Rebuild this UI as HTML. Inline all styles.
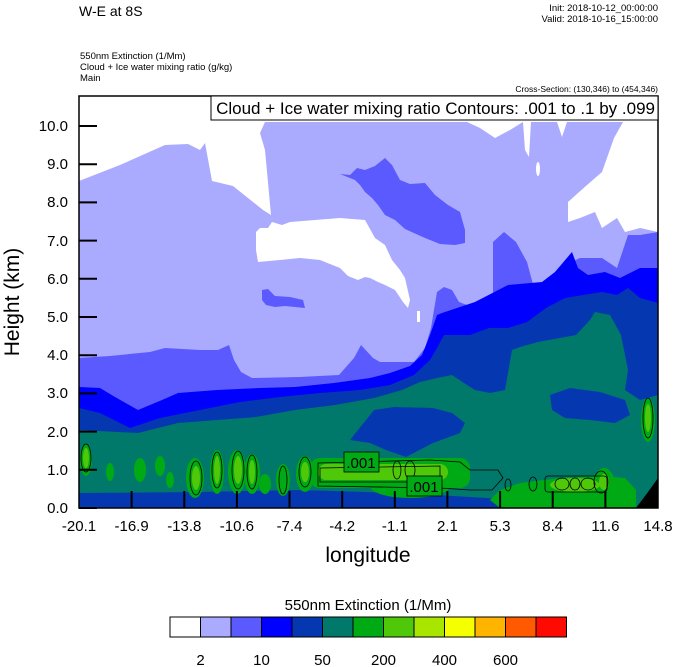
<!DOCTYPE html>
<html><head><meta charset="utf-8"><style>
body{margin:0;background:#fff;}
svg{display:block;font-family:"Liberation Sans",sans-serif;}
</style></head><body>
<svg width="674" height="667" viewBox="0 0 674 667" xmlns="http://www.w3.org/2000/svg">
<rect width="674" height="667" fill="#fff"/>
<text x="79" y="16" font-size="14">W-E at 8S</text>
<text x="658" y="11" font-size="9.5" text-anchor="end">Init: 2018-10-12_00:00:00</text>
<text x="658" y="22" font-size="9.5" text-anchor="end">Valid: 2018-10-16_15:00:00</text>
<text x="80" y="59" font-size="9.5">550nm Extinction   (1/Mm)</text>
<text x="80" y="70" font-size="9.5">Cloud + Ice water mixing ratio   (g/kg)</text>
<text x="80" y="81" font-size="9.5">Main</text>
<text x="658" y="92" font-size="8.5" text-anchor="end">Cross-Section: (130,346) to (454,346)</text>
<defs><clipPath id="pc"><rect x="79" y="96" width="579" height="412"/></clipPath></defs>
<g clip-path="url(#pc)">
<rect x="79" y="96" width="579" height="412" fill="#fff"/>
<polygon fill="#aaaaff" points="79,181 120,165 165,145 188,144 200,150 205,143 212,181 233,186 263,210 271,215 265,150 260,133 265,122 467,122 480,128 495,138 510,130 523,122 525,150 529,157 531,122 557,122 562,137 567,122 623,122 614,138 602,172 587,185 568,202 568,222 580,218 595,212 602,228 617,218 625,232 640,228 658,232 658,508 79,508"/>
<polygon fill="#fff" points="256,232 260,228 268,228 272,222 282,225 290,222 340,218 365,220 375,238 385,245 392,260 400,270 405,278 410,300 408,308 403,302 395,290 385,285 378,282 370,278 365,277 358,280 348,276 340,268 320,260 300,258 280,260 258,262 256,250"/>
<rect x="417" y="311" width="3" height="11" fill="#fff"/>
<ellipse cx="538" cy="169" rx="2" ry="7" fill="#fff"/>
<polygon fill="#5a5aff" points="340,174 350,175 357,168 365,170 375,166 385,158 392,165 400,180 410,184 425,183 435,195 448,205 460,212 465,230 465,243 455,245 440,244 425,238 405,229 395,220 385,215 378,205 372,198 365,192 360,185 355,180"/>
<polygon fill="#5a5aff" points="262,290 268,289 275,296 290,297 303,300 305,308 295,307 285,306 275,307 266,305 262,300"/>
<polygon fill="#5a5aff" points="79,358 110,356 150,352 165,348 200,350 218,350 229,345 234,360 241,372 252,378 300,377 339,375 354,358 361,345 373,358 380,362 414,362 425,348 431,328 437,292 444,287 452,290 459,302 467,305 489,303 493,295 493,242 504,232 516,242 527,262 534,288 542,295 550,285 565,265 580,258 602,258 617,268 628,235 640,235 658,232 658,508 79,508"/>
<polygon fill="#0000ff" points="79,387 100,388 115,397 138,410 162,400 178,393 217,390 260,388 295,387 334,383 370,378 390,373 410,366 422,355 430,335 437,315 442,313 475,302 508,285 542,282 555,272 572,252 578,268 588,275 605,272 620,278 640,268 658,268 658,508 79,508"/>
<polygon fill="#0538b0" points="79,408 100,413 130,428 160,418 200,410 240,402 280,397 320,393 360,390 390,385 414,375 430,360 437,348 444,335 470,335 489,328 508,328 527,322 546,308 565,298 583,295 602,292 617,295 628,288 640,298 658,303 658,508 79,508"/>
<polygon fill="#00786a" points="79,430 138,433 178,423 217,420 256,417 295,410 335,405 374,398 402,390 420,382 437,378 452,375 467,385 475,390 490,393 505,390 512,350 520,347 538,342 576,335 590,320 595,312 610,315 621,335 628,370 625,390 640,400 658,395 658,508 79,508"/>
<polygon fill="#0538b0" points="366,420 374,410 394,407 433,408 452,413 465,423 460,433 433,443 406,457 386,450 370,443 350,440"/>
<polygon fill="#0538b0" points="550,395 570,388 600,392 625,400 630,415 615,423 590,420 565,418 552,410"/>
<polygon fill="#0538b0" points="79,493 200,492 300,490 400,493 470,497 520,500 520,508 79,508"/>
<polygon fill="#00aa14" points="490,500 500,490 520,483 560,478 600,476 625,478 636,490 636,508 500,508"/>
<polygon fill="#000" points="636,508 648,492 658,478 658,508"/>
<g fill="#00aa14">
<rect x="310" y="458" width="160" height="30" rx="10"/>
<ellipse cx="86" cy="460" rx="6" ry="16"/>
<ellipse cx="195" cy="478" rx="9" ry="20"/>
<ellipse cx="217" cy="472" rx="7" ry="22"/>
<ellipse cx="237" cy="472" rx="9" ry="22"/>
<ellipse cx="252" cy="474" rx="8" ry="20"/>
<ellipse cx="283" cy="480" rx="7" ry="16"/>
<ellipse cx="305" cy="474" rx="9" ry="18"/>
<ellipse cx="410" cy="486" rx="40" ry="12"/>
<ellipse cx="648" cy="420" rx="7" ry="22"/>
<ellipse cx="604" cy="482" rx="10" ry="14"/>
<ellipse cx="140" cy="470" rx="6" ry="12"/>
<ellipse cx="110" cy="472" rx="4" ry="9"/>
<ellipse cx="160" cy="466" rx="5" ry="10"/>
<ellipse cx="170" cy="480" rx="4" ry="8"/>
<ellipse cx="265" cy="484" rx="6" ry="10"/>
</g>
<g fill="#50c80a">
<rect x="318" y="464" width="130" height="16" rx="8"/>
<ellipse cx="86" cy="458" rx="3" ry="10"/>
<ellipse cx="196" cy="478" rx="4" ry="12"/>
<ellipse cx="217" cy="470" rx="3" ry="14"/>
<ellipse cx="238" cy="470" rx="4" ry="14"/>
<ellipse cx="252" cy="472" rx="3" ry="12"/>
<ellipse cx="305" cy="472" rx="4" ry="10"/>
<ellipse cx="575" cy="485" rx="25" ry="7"/>
<ellipse cx="648" cy="418" rx="3" ry="14"/>
<ellipse cx="604" cy="482" rx="5" ry="8"/>
</g>
<g fill="none" stroke="#000" stroke-width="0.8">
<ellipse cx="86" cy="458" rx="5" ry="14"/>
<ellipse cx="196" cy="478" rx="6" ry="17"/>
<ellipse cx="217" cy="470" rx="5" ry="18"/>
<ellipse cx="238" cy="470" rx="6" ry="19"/>
<ellipse cx="252" cy="472" rx="5" ry="17"/>
<ellipse cx="283" cy="480" rx="4" ry="14"/>
<ellipse cx="305" cy="472" rx="6" ry="15"/>
<ellipse cx="601" cy="482" rx="7" ry="11"/>
<ellipse cx="648" cy="418" rx="5" ry="20"/>
<path d="M318,463 L430,460 L460,462 L470,470 L498,470 L503,478 L492,490 L470,490 L440,488 L318,486 Z"/>
<path d="M320,468 L440,466 L440,482 L320,482 Z"/>
<rect x="545" y="476" width="62" height="16" rx="3"/>
<ellipse cx="562" cy="484" rx="7" ry="6"/>
<ellipse cx="575" cy="484" rx="5" ry="6"/>
<ellipse cx="588" cy="484" rx="7" ry="6"/>
<ellipse cx="533" cy="484" rx="4" ry="7"/>
<ellipse cx="508" cy="485" rx="3" ry="6"/>
<ellipse cx="397" cy="470" rx="4" ry="9"/>
<ellipse cx="410" cy="470" rx="5" ry="9"/>
</g>
<g stroke="#000" stroke-width="0.8" fill="#00aa14">
<rect x="344" y="452" width="35" height="20"/>
<rect x="407" y="476" width="35" height="20"/>
</g>
<text x="361" y="468" font-size="15" text-anchor="middle">.001</text>
<text x="424" y="492" font-size="15" text-anchor="middle">.001</text>
</g>
<rect x="79" y="96" width="579" height="412" fill="none" stroke="#000" stroke-width="1.5"/>
<rect x="211" y="96" width="447" height="24" fill="#fff" stroke="#000" stroke-width="1"/>
<text x="655" y="114" font-size="17" text-anchor="end">Cloud + Ice water mixing ratio Contours: .001 to .1 by .099</text>
<g stroke="#000" stroke-width="2">
<line x1="79" y1="508" x2="97" y2="508"/><line x1="79" y1="469.8" x2="97" y2="469.8"/><line x1="79" y1="431.6" x2="97" y2="431.6"/><line x1="79" y1="393.4" x2="97" y2="393.4"/><line x1="79" y1="355.2" x2="97" y2="355.2"/><line x1="79" y1="317" x2="97" y2="317"/><line x1="79" y1="278.8" x2="97" y2="278.8"/><line x1="79" y1="240.6" x2="97" y2="240.6"/><line x1="79" y1="202.4" x2="97" y2="202.4"/><line x1="79" y1="164.2" x2="97" y2="164.2"/><line x1="79" y1="126" x2="97" y2="126"/>
<line x1="131.6" y1="508" x2="131.6" y2="491"/><line x1="184.3" y1="508" x2="184.3" y2="491"/><line x1="236.9" y1="508" x2="236.9" y2="491"/><line x1="289.5" y1="508" x2="289.5" y2="491"/><line x1="342.2" y1="508" x2="342.2" y2="491"/><line x1="394.8" y1="508" x2="394.8" y2="491"/><line x1="447.4" y1="508" x2="447.4" y2="491"/><line x1="500.1" y1="508" x2="500.1" y2="491"/><line x1="552.7" y1="508" x2="552.7" y2="491"/><line x1="605.4" y1="508" x2="605.4" y2="491"/>
</g>
<g font-size="15" text-anchor="end">
<text x="68" y="513">0.0</text><text x="68" y="475">1.0</text><text x="68" y="437">2.0</text><text x="68" y="398">3.0</text><text x="68" y="360">4.0</text><text x="68" y="322">5.0</text><text x="68" y="284">6.0</text><text x="68" y="246">7.0</text><text x="68" y="207">8.0</text><text x="68" y="169">9.0</text><text x="68" y="131">10.0</text>
</g>
<g font-size="15" text-anchor="middle">
<text x="79" y="531">-20.1</text><text x="131.6" y="531">-16.9</text><text x="184.3" y="531">-13.8</text><text x="236.9" y="531">-10.6</text><text x="289.5" y="531">-7.4</text><text x="342.2" y="531">-4.2</text><text x="394.8" y="531">-1.1</text><text x="447.4" y="531">2.1</text><text x="500.1" y="531">5.3</text><text x="552.7" y="531">8.4</text><text x="605.4" y="531">11.6</text><text x="658" y="531">14.8</text>
</g>
<text x="368" y="562" font-size="21" text-anchor="middle">longitude</text>
<text transform="translate(19,302) rotate(-90)" font-size="21" text-anchor="middle">Height (km)</text>
<text x="368" y="610" font-size="15" text-anchor="middle">550nm Extinction  (1/Mm)</text>
<g stroke="#000" stroke-width="1">
<rect x="170" y="617" width="30.5" height="20" fill="#ffffff"/>
<rect x="200.5" y="617" width="30.5" height="20" fill="#aaaaff"/>
<rect x="231" y="617" width="30.5" height="20" fill="#5a5aff"/>
<rect x="261.5" y="617" width="30.5" height="20" fill="#0000ff"/>
<rect x="292" y="617" width="30.5" height="20" fill="#0538b0"/>
<rect x="322.5" y="617" width="30.5" height="20" fill="#00786a"/>
<rect x="353" y="617" width="30.5" height="20" fill="#00aa14"/>
<rect x="383.5" y="617" width="30.5" height="20" fill="#50c80a"/>
<rect x="414" y="617" width="30.5" height="20" fill="#a8e600"/>
<rect x="444.5" y="617" width="30.5" height="20" fill="#f5ff00"/>
<rect x="475" y="617" width="30.5" height="20" fill="#ffb400"/>
<rect x="505.5" y="617" width="30.5" height="20" fill="#ff5a00"/>
<rect x="536" y="617" width="30.5" height="20" fill="#ff0a00"/>
</g>
<g font-size="15" text-anchor="middle">
<text x="200.5" y="665">2</text><text x="261.5" y="665">10</text><text x="322.5" y="665">50</text><text x="383.5" y="665">200</text><text x="444.5" y="665">400</text><text x="505.5" y="665">600</text>
</g>
</svg>
</body></html>
